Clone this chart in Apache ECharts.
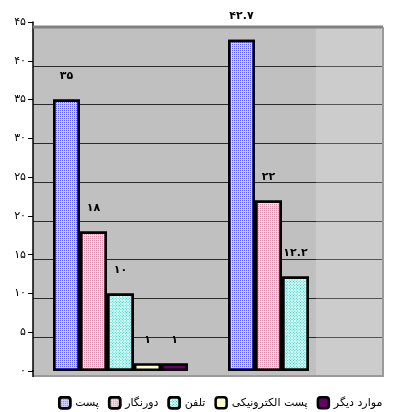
<!DOCTYPE html>
<html>
<head>
<meta charset="utf-8">
<script src="https://cdn.jsdelivr.net/npm/echarts@6/dist/echarts.min.js"></script>
<style>
  html, body { margin: 0; padding: 0; background: #ffffff; }
  #chart { width: 396px; height: 412px; }
</style>
</head>
<body>
<div id="chart"></div>
<script>
// Two survey groups, five channels each (only three reported in the second group)
const groups = ['گروه ۱', 'گروه ۲'];
const seriesNames = ['پست', 'دورنگار', 'تلفن', 'پست الکترونیکی', 'موارد دیگر'];
const post = [35, 42.7];
const fax = [18, 22];
const phone = [10, 12.2];
const email = [1, null];
const other = [1, null];
const yTicks = [0, 5, 10, 15, 20, 25, 30, 35, 40, 45];

const FONT = 'DejaVu Sans';
const persianDigits = '۰۱۲۳۴۵۶۷۸۹';
function toPersian(v) {
  return String(v).replace(/[0-9]/g, d => persianDigits[+d]);
}

const fills = [
  { color: '#dcdcff', decal: { symbol: 'rect', symbolSize: 1, dashArrayX: [1, 1], dashArrayY: [1, 1], color: '#5a5aff' } },
  { color: '#f6dde6', decal: { symbol: 'rect', symbolSize: 1, dashArrayX: [1, 1], dashArrayY: [1, 1], color: '#d98aa8' } },
  { color: '#dcfff8', decal: { symbol: 'rect', symbolSize: 1, dashArrayX: [1, 1], dashArrayY: [1, 1], rotation: -Math.PI / 4, color: '#20c4c4' } },
  { color: '#ffffcc' },
  { color: '#660066' }
];
const values = [post, fax, phone, email, other];

const chart = echarts.init(document.getElementById('chart'), null, { renderer: 'canvas' });

const series = seriesNames.map((name, i) => {
  const itemStyle = {
    color: fills[i].color,
    borderColor: '#000000',
    borderWidth: 2.5
  };
  if (fills[i].decal) itemStyle.decal = fills[i].decal;
  return {
    name: name,
    type: 'bar',
    xAxisIndex: 1,
    yAxisIndex: 1,
    barWidth: 27,
    barGap: '0%',
    z: 3,
    data: values[i].map(v => (v === null ? '-' : v)),
    itemStyle: itemStyle,
    label: {
      show: true,
      position: 'top',
      distance: 18,
      fontFamily: FONT,
      fontSize: 11,
      fontWeight: 'bold',
      color: '#000000',
      formatter: p => toPersian(p.value)
    }
  };
});

chart.setOption({
  animation: false,
  backgroundColor: '#ffffff',
  textStyle: { fontFamily: FONT },
  grid: [
    // back wall with gridlines
    { left: 33, right: 13, top: 27, bottom: 36, show: true, backgroundColor: '#c0c0c0', borderWidth: 0 },
    // bars and value axis
    { left: 33, right: 13, top: 22, bottom: 41 }
  ],
  xAxis: [
    { type: 'category', gridIndex: 0, data: groups, show: false },
    { type: 'category', gridIndex: 1, data: groups, axisLabel: { show: false }, axisTick: { show: false }, axisLine: { show: false } }
  ],
  yAxis: [
    {
      type: 'value', gridIndex: 0, min: 0, max: 45, interval: 5,
      axisLabel: { show: false }, axisTick: { show: false }, axisLine: { show: false },
      splitLine: { show: true, lineStyle: { color: '#2a2a2a', width: 1 } }
    },
    {
      type: 'value', gridIndex: 1, min: 0, max: 45, interval: 5,
      splitLine: { show: false },
      axisLine: { show: true, lineStyle: { color: '#000000', width: 1.5 } },
      axisTick: { show: true, length: 5, lineStyle: { color: '#000000' } },
      axisLabel: {
        fontFamily: FONT, fontSize: 11, color: '#000000', margin: 7,
        formatter: v => toPersian(v)
      }
    }
  ],
  legend: {
    left: 58,
    right: 0,
    top: 396,
    padding: 0,
    itemWidth: 11,
    itemHeight: 11,
    itemGap: 9,
    data: seriesNames,
    textStyle: { fontFamily: FONT, fontSize: 11, color: '#000000' },
    itemStyle: { borderColor: '#000000', borderWidth: 2.5 }
  },
  graphic: [
    // lighter strip at the right end of the wall
    { type: 'rect', z: 1, shape: { x: 316, y: 27, width: 67, height: 349 }, style: { fill: 'rgba(255,255,255,0.2)' } },
    // wall top edge
    { type: 'line', z: 2, shape: { x1: 33, y1: 27, x2: 383, y2: 27 }, style: { stroke: '#808080', lineWidth: 3 } },
    // wall right edge
    { type: 'line', z: 2, shape: { x1: 383, y1: 27, x2: 383, y2: 377 }, style: { stroke: '#9a9a9a', lineWidth: 2 } },
    // floor edge
    { type: 'line', z: 2, shape: { x1: 33, y1: 376, x2: 384, y2: 376 }, style: { stroke: '#9a9a9a', lineWidth: 2 } },
    // left axis lower extension
    { type: 'line', z: 2, shape: { x1: 33, y1: 370, x2: 33, y2: 377 }, style: { stroke: '#000000', lineWidth: 1.5 } }
  ],
  series: series
});
</script>
</body>
</html>
